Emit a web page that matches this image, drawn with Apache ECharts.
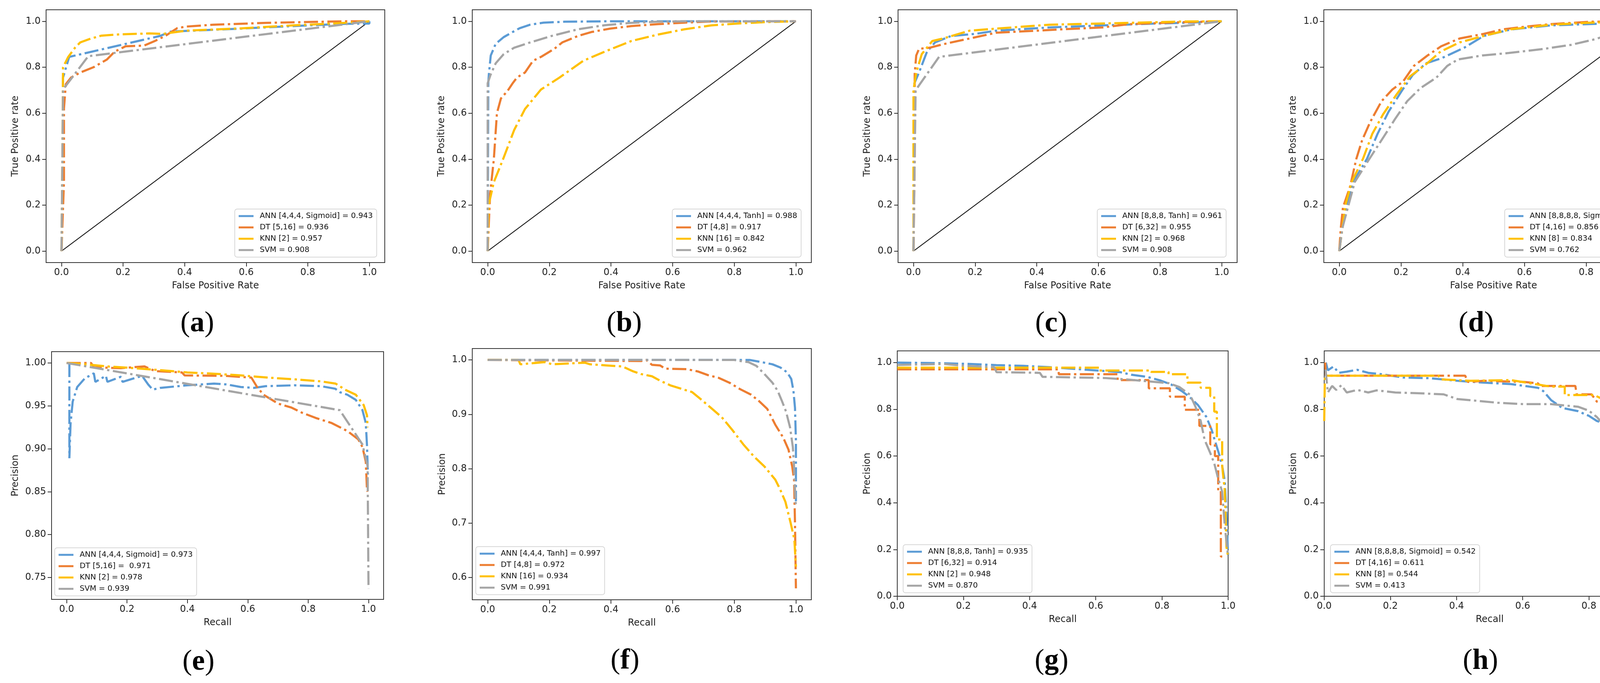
<!DOCTYPE html>
<html>
<head>
<meta charset="utf-8">
<script src="https://cdn.jsdelivr.net/npm/echarts@6/dist/echarts.min.js"></script>
<style>
html, body { margin: 0; padding: 0; background: #fff; }
#main { width: 4284px; height: 1748px; }
</style>
</head>
<body>
<div id="main"></div>
<script>
// ROC / PR curves, eight panels

// legend texts
var namesA = ['ANN [4,4,4, Sigmoid] = 0.943', 'DT [5,16] = 0.936', 'KNN [2] = 0.957', 'SVM = 0.908'];
var namesB = ['ANN [4,4,4, Tanh] = 0.988', 'DT [4,8] = 0.917', 'KNN [16] = 0.842', 'SVM = 0.962'];
var namesC = ['ANN [8,8,8, Tanh] = 0.961', 'DT [6,32] = 0.955', 'KNN [2] = 0.968', 'SVM = 0.908'];
var namesD = ['ANN [8,8,8,8, Sigmoid] = 0.825', 'DT [4,16] = 0.856', 'KNN [8] = 0.834', 'SVM = 0.762'];
var namesE = ['ANN [4,4,4, Sigmoid] = 0.973', 'DT [5,16] =  0.971', 'KNN [2] = 0.978', 'SVM = 0.939'];
var namesF = ['ANN [4,4,4, Tanh] = 0.997', 'DT [4,8] = 0.972', 'KNN [16] = 0.934', 'SVM = 0.991'];
var namesG = ['ANN [8,8,8, Tanh] = 0.935', 'DT [6,32] = 0.914', 'KNN [2] = 0.948', 'SVM = 0.870'];
var namesH = ['ANN [8,8,8,8, Sigmoid] = 0.542', 'DT [4,16] = 0.611', 'KNN [8] = 0.544', 'SVM = 0.413'];

// tick labels
var ticks01 = [0, 0.2, 0.4, 0.6, 0.8, 1.0];
var ticksE = [0.75, 0.80, 0.85, 0.90, 0.95, 1.00];
var ticksF = [0.6, 0.7, 0.8, 0.9, 1.0];

var diagonal = [[0, 0], [1, 1]];

// (a) ROC
var rocA_ann = [[0,0],[0.005,0.3],[0.005,0.755],[0.025,0.845],[0.32,0.936],[0.355,0.955],[0.58,0.968],[0.75,0.979],[0.924,0.989],[1,0.99],[1,1]];
var rocA_dt = [[0,0],[0.008,0.3],[0.008,0.62],[0.014,0.726],[0.031,0.755],[0.061,0.777],[0.104,0.8],[0.148,0.834],[0.173,0.868],[0.208,0.891],[0.268,0.894],[0.303,0.914],[0.337,0.936],[0.376,0.97],[0.406,0.977],[0.493,0.985],[0.665,0.993],[0.924,1],[1,1]];
var rocA_knn = [[0,0],[0.003,0.4],[0.005,0.8],[0.022,0.845],[0.044,0.885],[0.061,0.908],[0.096,0.925],[0.13,0.9375],[0.19,0.943],[0.286,0.947],[0.33,0.945],[0.355,0.95],[0.406,0.959],[0.58,0.969],[0.75,0.982],[0.924,0.993],[1,1]];
var rocA_svm = [[0,0],[0.005,0.703],[0.087,0.848],[1,1]];

// (b) ROC
var rocB_ann = [[0,0],[0.002,0.732],[0.004,0.772],[0.01,0.851],[0.026,0.902],[0.052,0.931],[0.078,0.951],[0.104,0.97],[0.138,0.985],[0.181,0.994],[0.25,0.998],[0.4,1],[1,1]];
var rocB_dt = [[0,0],[0.003,0.1],[0.008,0.25],[0.02,0.4],[0.03,0.6],[0.043,0.664],[0.065,0.698],[0.082,0.732],[0.095,0.755],[0.121,0.777],[0.147,0.828],[0.173,0.845],[0.216,0.88],[0.242,0.908],[0.293,0.936],[0.336,0.953],[0.397,0.968],[0.466,0.979],[0.552,0.9875],[0.638,0.994],[0.725,0.999],[1,1]];
var rocB_knn = [[0,0],[0.003,0.2],[0.02,0.3],[0.05,0.4],[0.086,0.527],[0.121,0.618],[0.173,0.703],[0.233,0.755],[0.31,0.828],[0.38,0.868],[0.466,0.914],[0.552,0.942],[0.638,0.965],[0.725,0.982],[0.811,0.99],[0.897,0.996],[1,1]];
var rocB_svm = [[0,0],[0,0.73],[0.009,0.766],[0.026,0.817],[0.052,0.857],[0.086,0.885],[0.138,0.908],[0.207,0.936],[0.293,0.965],[0.38,0.983],[0.466,0.993],[0.552,0.998],[0.65,1],[1,1]];

// (c) ROC
var rocC_ann = [[0,0],[0.003,0.4],[0.003,0.73],[0.018,0.777],[0.044,0.868],[0.07,0.908],[0.122,0.936],[0.2,0.945],[0.268,0.959],[0.441,0.973],[0.613,0.982],[0.786,0.99],[0.872,0.993],[1,1]];
var rocC_dt = [[0,0],[0.004,0.4],[0.004,0.772],[0.009,0.851],[0.018,0.88],[0.053,0.885],[0.096,0.9],[0.182,0.925],[0.268,0.95],[0.355,0.956],[0.484,0.965],[0.613,0.973],[0.7,0.9875],[0.872,0.996],[1,1]];
var rocC_knn = [[0,0],[0,0.7],[0.009,0.777],[0.027,0.857],[0.061,0.914],[0.096,0.925],[0.182,0.959],[0.268,0.968],[0.441,0.985],[0.7,0.993],[0.872,0.999],[1,1]];
var rocC_svm = [[0,0],[0.007,0.7],[0.083,0.845],[1,1]];

// (d) ROC
var rocD_ann = [[0,0],[0.01,0.1],[0.025,0.2],[0.045,0.3],[0.09,0.402],[0.124,0.51],[0.16,0.607],[0.203,0.698],[0.238,0.766],[0.281,0.817],[0.333,0.84],[0.405,0.885],[0.468,0.936],[0.555,0.964],[0.685,0.982],[0.86,0.99],[1,1]];
var rocD_dt = [[0,0],[0.005,0.1],[0.012,0.19],[0.035,0.28],[0.055,0.4],[0.074,0.482],[0.1,0.561],[0.137,0.652],[0.172,0.703],[0.207,0.738],[0.242,0.806],[0.286,0.851],[0.33,0.891],[0.39,0.925],[0.468,0.945],[0.53,0.965],[0.6,0.976],[0.685,0.9875],[0.816,0.998],[1,1]];
var rocD_knn = [[0,0],[0.01,0.1],[0.02,0.2],[0.04,0.3],[0.077,0.402],[0.107,0.51],[0.142,0.595],[0.185,0.68],[0.229,0.76],[0.285,0.817],[0.328,0.868],[0.39,0.908],[0.468,0.936],[0.555,0.965],[0.685,0.985],[0.816,0.994],[1,1]];
var rocD_svm = [[0,0],[0.01,0.1],[0.03,0.2],[0.05,0.3],[0.098,0.402],[0.142,0.493],[0.18,0.573],[0.22,0.652],[0.263,0.709],[0.315,0.755],[0.35,0.806],[0.385,0.834],[0.463,0.851],[0.55,0.862],[0.664,0.88],[0.75,0.897],[0.82,0.919],[0.88,0.942],[0.94,0.97],[0.976,0.9875],[1,1]];

// (e) PR
var prE_ann = [[0.009,1.0],[0.009,0.889],[0.013,0.93],[0.02,0.955],[0.035,0.972],[0.06,0.982],[0.09,0.988],[0.095,0.978],[0.13,0.985],[0.135,0.978],[0.18,0.984],[0.185,0.978],[0.25,0.985],[0.27,0.975],[0.285,0.969],[0.31,0.971],[0.4,0.974],[0.488,0.976],[0.53,0.975],[0.577,0.972],[0.62,0.971],[0.66,0.973],[0.754,0.974],[0.842,0.973],[0.89,0.97],[0.905,0.966],[0.93,0.963],[0.958,0.957],[0.98,0.945],[0.991,0.93],[0.995,0.904],[0.998,0.87]];
var prE_dt = [[0,1.0],[0.081,1.0],[0.09,0.995],[0.179,0.994],[0.258,0.996],[0.294,0.9905],[0.382,0.989],[0.391,0.9855],[0.524,0.985],[0.612,0.983],[0.63,0.9725],[0.652,0.963],[0.701,0.9526],[0.745,0.948],[0.78,0.942],[0.825,0.936],[0.878,0.93],[0.931,0.9205],[0.966,0.911],[0.98,0.902],[0.991,0.885],[0.995,0.852],[0.997,0.85]];
var prE_knn = [[0,1.0],[0.046,0.999],[0.135,0.996],[0.223,0.994],[0.312,0.9916],[0.4,0.989],[0.488,0.9875],[0.577,0.9855],[0.665,0.983],[0.754,0.981],[0.842,0.9786],[0.891,0.976],[0.922,0.969],[0.958,0.963],[0.984,0.951],[0.995,0.939],[0.997,0.925]];
var prE_svm = [[0,1.0],[0.905,0.945],[0.98,0.905],[0.997,0.88],[1.0,0.737]];

// (f) PR
var prF_ann = [[0,1],[0.85,1],[0.889,0.996],[0.924,0.992],[0.95,0.986],[0.972,0.977],[0.985,0.965],[0.992,0.943],[0.997,0.912],[1.0,0.852],[1.0,0.74]];
var prF_dt = [[0,1],[0.498,0.998],[0.515,1],[0.533,0.991],[0.559,0.99],[0.576,0.984],[0.646,0.983],[0.681,0.979],[0.715,0.972],[0.75,0.967],[0.785,0.958],[0.82,0.946],[0.855,0.936],[0.881,0.924],[0.907,0.91],[0.933,0.881],[0.959,0.857],[0.976,0.835],[0.988,0.804],[0.994,0.78],[0.997,0.7],[1.0,0.58]];
var prF_knn = [[0,1],[0.1,1],[0.106,0.992],[0.185,0.996],[0.21,0.992],[0.315,0.995],[0.332,0.992],[0.385,0.99],[0.437,0.988],[0.472,0.979],[0.498,0.974],[0.533,0.97],[0.559,0.962],[0.594,0.953],[0.628,0.947],[0.663,0.941],[0.689,0.929],[0.724,0.912],[0.759,0.895],[0.794,0.871],[0.829,0.845],[0.863,0.823],[0.898,0.804],[0.933,0.78],[0.948,0.763],[0.966,0.739],[0.983,0.7],[0.995,0.67],[1.0,0.62]];
var prF_svm = [[0,1],[0.8,1],[0.82,0.998],[0.846,0.996],[0.872,0.989],[0.898,0.974],[0.924,0.958],[0.941,0.943],[0.955,0.924],[0.968,0.905],[0.981,0.876],[0.99,0.84],[0.994,0.804],[0.998,0.749],[1.0,0.73]];

// (g) PR
var prG_ann = [[0,1.0],[0.14,0.997],[0.22,0.994],[0.30,0.989],[0.38,0.986],[0.46,0.98],[0.545,0.972],[0.625,0.964],[0.674,0.959],[0.707,0.948],[0.755,0.939],[0.796,0.923],[0.828,0.906],[0.86,0.878],[0.885,0.851],[0.909,0.818],[0.934,0.768],[0.95,0.713],[0.962,0.657],[0.974,0.602],[0.982,0.558],[0.99,0.492],[0.995,0.35],[1.0,0.17]];
var prG_dt = [[0,0.971],[0.488,0.971],[0.488,0.95],[0.666,0.95],[0.666,0.925],[0.76,0.925],[0.76,0.89],[0.824,0.89],[0.824,0.854],[0.869,0.854],[0.869,0.798],[0.913,0.798],[0.913,0.729],[0.946,0.729],[0.946,0.65],[0.96,0.65],[0.96,0.6],[0.97,0.6],[0.97,0.45],[0.978,0.45],[0.978,0.17],[0.99,0.17]];
var prG_knn = [[0,0.978],[0.61,0.978],[0.61,0.966],[0.767,0.966],[0.767,0.96],[0.82,0.96],[0.82,0.95],[0.877,0.95],[0.877,0.914],[0.917,0.914],[0.917,0.892],[0.946,0.892],[0.946,0.856],[0.958,0.856],[0.958,0.79],[0.966,0.79],[0.966,0.671],[0.982,0.671],[0.982,0.558],[0.99,0.45],[0.995,0.21],[1.0,0.17]];
var prG_svm = [[0,0.99],[0.14,0.994],[0.204,0.986],[0.293,0.98],[0.30,0.959],[0.431,0.956],[0.439,0.939],[0.626,0.934],[0.69,0.928],[0.755,0.92],[0.82,0.912],[0.853,0.895],[0.885,0.862],[0.901,0.812],[0.917,0.751],[0.929,0.669],[0.946,0.613],[0.958,0.569],[0.97,0.503],[0.982,0.448],[0.99,0.3],[1.0,0.17]];

// (h) PR
var prH_ann = [[0.005,1.0],[0.011,0.967],[0.028,0.983],[0.044,0.956],[0.068,0.961],[0.1,0.969],[0.133,0.956],[0.174,0.95],[0.239,0.936],[0.32,0.933],[0.402,0.922],[0.483,0.914],[0.564,0.908],[0.646,0.892],[0.662,0.878],[0.686,0.839],[0.719,0.806],[0.767,0.792],[0.8,0.772],[0.824,0.75],[0.849,0.739],[0.898,0.733],[0.922,0.711],[0.938,0.672],[0.954,0.628],[0.971,0.583],[0.983,0.528],[0.993,0.472],[1.0,0.40]];
var prH_dt = [[0.003,1.0],[0.005,0.944],[0.426,0.944],[0.434,0.917],[0.483,0.922],[0.605,0.917],[0.646,0.911],[0.654,0.9],[0.759,0.9],[0.763,0.864],[0.808,0.864],[0.824,0.833],[0.865,0.811],[0.873,0.789],[0.906,0.783],[0.907,0.733],[0.93,0.728],[0.938,0.667],[0.942,0.608],[0.967,0.608],[0.967,0.33],[1.0,0.33]];
var prH_knn = [[0,0.75],[0.002,0.944],[0.345,0.944],[0.353,0.928],[0.442,0.922],[0.564,0.925],[0.646,0.906],[0.686,0.897],[0.727,0.897],[0.727,0.861],[0.816,0.861],[0.841,0.844],[0.865,0.833],[0.873,0.778],[0.906,0.761],[0.93,0.722],[0.938,0.678],[0.946,0.594],[0.967,0.592],[0.979,0.528],[0.991,0.467],[1.0,0.42]];
var prH_svm = [[0.004,0.97],[0.011,0.872],[0.024,0.9],[0.036,0.883],[0.052,0.903],[0.068,0.872],[0.1,0.883],[0.133,0.872],[0.158,0.881],[0.215,0.872],[0.28,0.869],[0.361,0.864],[0.402,0.844],[0.442,0.839],[0.524,0.828],[0.605,0.822],[0.686,0.822],[0.767,0.811],[0.8,0.794],[0.824,0.767],[0.849,0.728],[0.873,0.678],[0.898,0.639],[0.93,0.594],[0.954,0.556],[0.979,0.511],[0.993,0.472],[1.0,0.4]];

var colors = ['#5B9BD5', '#ED7D31', '#FFC000', '#A5A5A5'];
var FONT = 'DejaVu Sans';

// panel layout: grid box [left, top, width, height], legend corner, label centre
var panels = [
  { box: [118, 25, 867, 647], xr: [-0.05, 1.05], yr: [-0.05, 1.05], yt: ticks01, dg: 1, xn: 'False Positive Rate', yn: 'True Positive rate', ygap: 66,
    lg: [601, 535], names: namesA, curves: [rocA_ann, rocA_dt, rocA_knn, rocA_svm], diag: true, tag: 'a', tp: [505, 829] },
  { box: [1209, 25, 868, 647], xr: [-0.05, 1.05], yr: [-0.05, 1.05], yt: ticks01, dg: 1, xn: 'False Positive Rate', yn: 'True Positive rate', ygap: 66,
    lg: [1721, 535], names: namesB, curves: [rocB_ann, rocB_dt, rocB_knn, rocB_svm], diag: true, tag: 'b', tp: [1598, 829] },
  { box: [2299, 25, 868, 647], xr: [-0.05, 1.05], yr: [-0.05, 1.05], yt: ticks01, dg: 1, xn: 'False Positive Rate', yn: 'True Positive rate', ygap: 66,
    lg: [2809, 535], names: namesC, curves: [rocC_ann, rocC_dt, rocC_knn, rocC_svm], diag: true, tag: 'c', tp: [2691, 829] },
  { box: [3389, 25, 869, 647], xr: [-0.05, 1.05], yr: [-0.05, 1.05], yt: ticks01, dg: 1, xn: 'False Positive Rate', yn: 'True Positive rate', ygap: 66,
    lg: [3852, 535], names: namesD, curves: [rocD_ann, rocD_dt, rocD_knn, rocD_svm], diag: true, tag: 'd', tp: [3779, 829] },
  { box: [132, 900, 850, 634], xr: [-0.05, 1.05], yr: [0.7245, 1.0132], yt: ticksE, dg: 2, xn: 'Recall', yn: 'Precision', ygap: 80,
    lg: [140, 1402], names: namesE, curves: [prE_ann, prE_dt, prE_knn, prE_svm], diag: false, tag: 'e', tp: [508, 1695] },
  { box: [1209, 892, 868, 643], xr: [-0.05, 1.05], yr: [0.559, 1.021], yt: ticksF, dg: 1, xn: 'Recall', yn: 'Precision', ygap: 64,
    lg: [1218, 1399], names: namesF, curves: [prF_ann, prF_dt, prF_knn, prF_svm], diag: false, tag: 'f', tp: [1600, 1692] },
  { box: [2297, 898, 847, 628], xr: [0, 1], yr: [0, 1.05], yt: ticks01, dg: 1, xn: 'Recall', yn: 'Precision', ygap: 64,
    lg: [2312, 1394], names: namesG, curves: [prG_ann, prG_dt, prG_knn, prG_svm], diag: false, tag: 'g', tp: [2692, 1693] },
  { box: [3390, 898, 847, 628], xr: [0, 1], yr: [0, 1.05], yt: ticks01, dg: 1, xn: 'Recall', yn: 'Precision', ygap: 66,
    lg: [3406, 1394], names: namesH, curves: [prH_ann, prH_dt, prH_knn, prH_svm], diag: false, tag: 'h', tp: [3790, 1693] }
];

var grids = [], xAxes = [], yAxes = [], series = [], legends = [], graphics = [];

panels.forEach(function (p, i) {
  grids.push({
    left: p.box[0], top: p.box[1], width: p.box[2], height: p.box[3],
    show: true, borderColor: '#333', borderWidth: 2, backgroundColor: '#fff'
  });
  xAxes.push({
    gridIndex: i, type: 'value', min: p.xr[0], max: p.xr[1],
    name: p.xn, nameLocation: 'middle', nameGap: 48,
    nameTextStyle: { fontFamily: FONT, fontSize: 24, color: '#222' },
    axisLine: { show: false, onZero: false },
    axisTick: { show: true, length: 10, lineStyle: { color: '#333', width: 2 }, customValues: ticks01 },
    axisLabel: { fontFamily: FONT, fontSize: 24, color: '#222', margin: 14, customValues: ticks01,
      formatter: function (v) { return Number(v).toFixed(1); } },
    splitLine: { show: false }
  });
  yAxes.push({
    gridIndex: i, type: 'value', min: p.yr[0], max: p.yr[1],
    name: p.yn, nameLocation: 'middle', nameGap: p.ygap, nameRotate: 90,
    nameTextStyle: { fontFamily: FONT, fontSize: 24, color: '#222' },
    axisLine: { show: false, onZero: false },
    axisTick: { show: true, length: 10, lineStyle: { color: '#333', width: 2 }, customValues: p.yt },
    axisLabel: { fontFamily: FONT, fontSize: 24, color: '#222', margin: 14, customValues: p.yt,
      formatter: (function (d) { return function (v) { return Number(v).toFixed(d); }; })(p.dg) },
    splitLine: { show: false }
  });
  p.curves.forEach(function (c, k) {
    series.push({
      name: p.names[k], type: 'line', xAxisIndex: i, yAxisIndex: i,
      data: c, showSymbol: false, symbol: 'none', animation: false, z: 3 + k,
      itemStyle: { color: colors[k] },
      lineStyle: { color: colors[k], width: 5.5, type: [36, 9, 6, 9], cap: 'butt' }
    });
  });
  if (p.diag) {
    series.push({
      name: 'diag' + i, type: 'line', xAxisIndex: i, yAxisIndex: i,
      data: diagonal, showSymbol: false, symbol: 'none', animation: false, z: 2,
      lineStyle: { color: '#111', width: 2 }
    });
  }
  legends.push({
    left: p.lg[0], top: p.lg[1], orient: 'vertical', data: p.names,
    icon: 'rect', itemWidth: 38, itemHeight: 5, itemGap: 9,
    padding: [8, 10, 8, 10], selectedMode: false,
    backgroundColor: 'rgba(255,255,255,0.85)', borderColor: '#cccccc', borderWidth: 1.5, borderRadius: 6,
    textStyle: { fontFamily: FONT, fontSize: 19.5, color: '#111', lineHeight: 20, padding: [0, 0, 0, 11] }
  });
  graphics.push({
    type: 'text', x: p.tp[0], y: p.tp[1], z: 10,
    style: {
      text: '{p|(}{b|' + p.tag + '}{p|)}',
      align: 'center', verticalAlign: 'middle',
      rich: {
        p: { fontFamily: 'Liberation Serif', fontSize: 74, fill: '#000' },
        b: { fontFamily: 'Liberation Serif', fontSize: 74, fontWeight: 'bold', fill: '#000' }
      }
    }
  });
});

var myChart = echarts.init(document.getElementById('main'), null, { renderer: 'canvas' });
myChart.setOption({
  backgroundColor: '#fff',
  animation: false,
  grid: grids,
  xAxis: xAxes,
  yAxis: yAxes,
  legend: legends,
  series: series,
  graphic: graphics
});
</script>
</body>
</html>
